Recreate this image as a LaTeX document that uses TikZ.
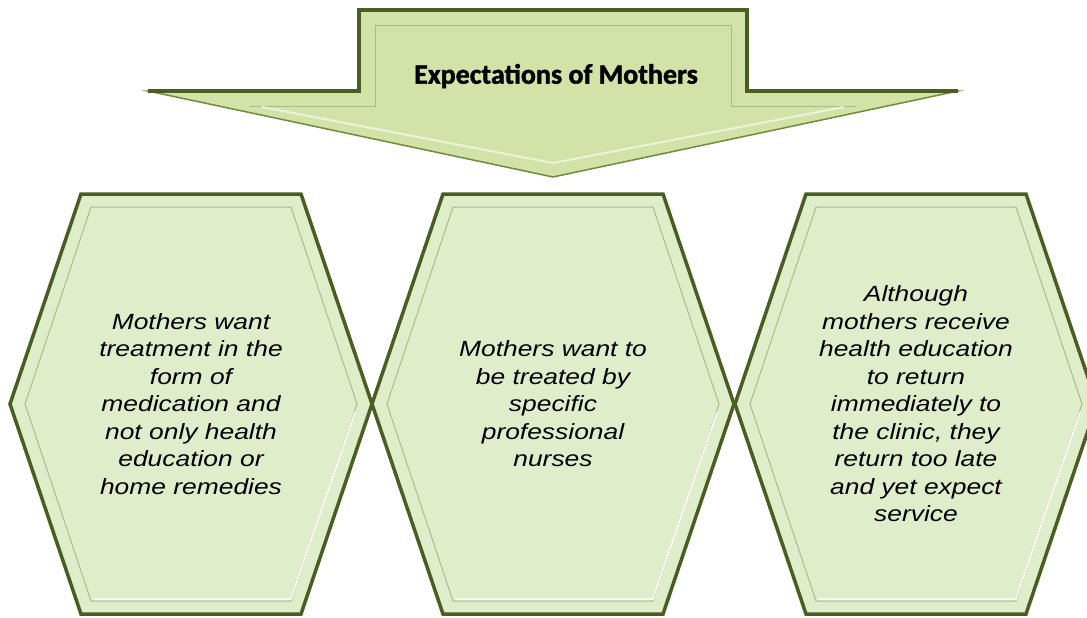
\documentclass[tikz,border=0pt]{standalone}
\usepackage{fontspec}
\setmainfont{Liberation Sans}
\newfontfamily\hexfont[FakeStretch=1.2]{Liberation Sans}
\newfontfamily\titlefont[FakeBold=1.5]{Carlito}

\definecolor{hexfill}{HTML}{E0EDCA}
\definecolor{arrowfill}{HTML}{D3E2A6}
\definecolor{hexline}{HTML}{4A5E24}
\definecolor{hexbevel}{HTML}{A9BB8C}
\definecolor{arrowedge}{HTML}{6F8C3E}

\begin{document}
\begin{tikzpicture}[x=1pt,y=-1pt,
  hexshape/.style={fill=hexfill,draw=hexline,line width=3.5pt,line join=miter},
  hexbevel/.style={draw=hexbevel,line width=1pt},
  hexshine/.style={draw=white,line width=1.5pt},
  hextext/.style={align=center,inner sep=0pt,font=\hexfont\itshape\fontsize{22}{27.5}\selectfont},
  arrowshape/.style={fill=arrowfill,draw=arrowedge,line width=1.5pt},
  arrowrim/.style={draw=hexline,line width=3.5pt,line join=miter},
  titletext/.style={inner sep=0pt,font=\titlefont\bfseries\fontsize{28}{30}\selectfont}
]
\useasboundingbox (0,0) rectangle (1087,618);

% three hexagons side by side
\foreach \cx in {191,553,916}{
  \draw[hexshape] (\cx-110,194) -- (\cx+110,194) -- (\cx+181,404) -- (\cx+110,614) -- (\cx-110,614) -- (\cx-181,404) -- cycle;
  \draw[hexbevel] (\cx-100,207) -- (\cx+100,207) -- (\cx+166,404) -- (\cx+100,601) -- (\cx-100,601) -- (\cx-166,404) -- cycle;
  \draw[hexshine] (\cx+164,412) -- (\cx+100,599) -- (\cx-98,599);
} % <- end hexagons

\node[hextext] (medication) at (191,404) {Mothers want\\treatment in the\\form of\\medication and\\not only health\\education or\\home remedies};
\node[hextext] (nurses) at (553,404) {Mothers want to\\be treated by\\specific\\professional\\nurses};
\node[hextext] (service) at (916,404) {Although\\mothers receive\\health education\\to return\\immediately to\\the clinic, they\\return too late\\and yet expect\\service};

% the down arrow on top
\draw[arrowshape] (359,10) -- (747,10) -- (747,91) -- (958,91) -- (553,177) -- (148,91) -- (359,91) -- cycle;
\draw[hexbevel] (250,106) -- (375,106) -- (375,26) -- (731,26) -- (731,106) -- (856,106);
\draw[hexshine,draw=white!60!arrowfill,line width=2pt] (262,107) -- (553,163) -- (844,107);
\draw[arrowrim] (148,91) -- (359,91) -- (359,10) -- (747,10) -- (747,91) -- (958,91);
\node[titletext] (expect) at (556,76) {Expectations of Mothers};
\end{tikzpicture}
\end{document}
